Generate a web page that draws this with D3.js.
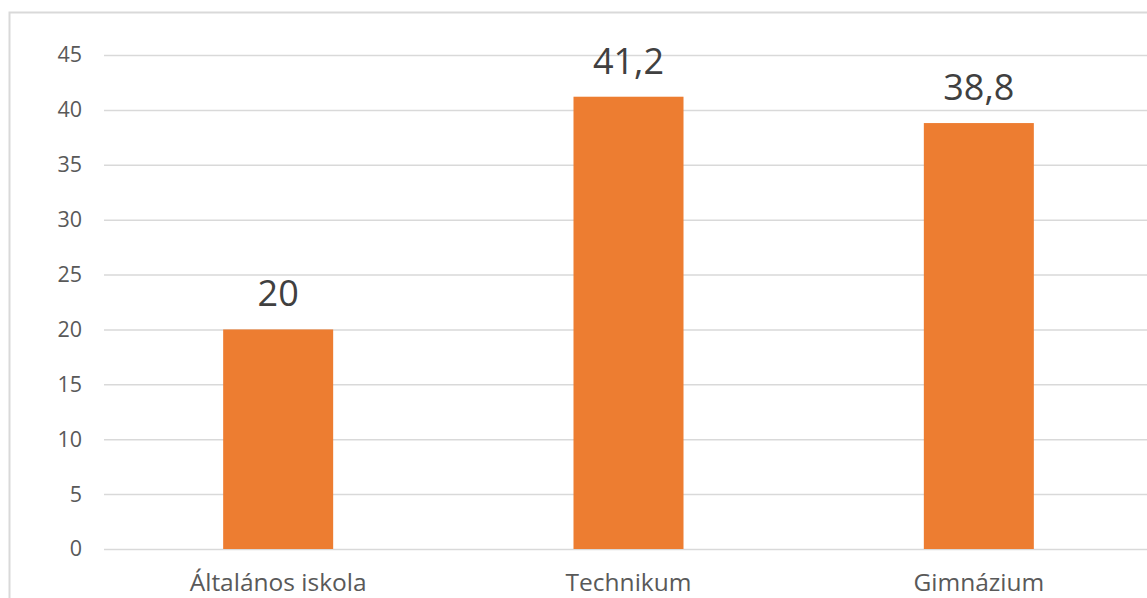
<!DOCTYPE html>
<html>
<head>
<meta charset="utf-8">
<script src="https://cdn.jsdelivr.net/npm/d3@7"></script>
<style>
    body { margin: 0; background: #fff; }
    svg { display: block; }
</style>
</head>
<body>
<svg id="chart" width="1147" height="598"></svg>
<script>
// chart data
const categories = ["Általános iskola", "Technikum", "Gimnázium"];
const values = [20, 41.2, 38.8];
const yTicks = [0, 5, 10, 15, 20, 25, 30, 35, 40, 45];

const font = "\"Segoe UI\", \"Open Sans\", sans-serif";
const svg = d3.select("#chart");

// outer chart frame (right and bottom edges fall outside the picture)
svg.append("rect")
    .attr("x", 9.5).attr("y", 12.5)
    .attr("width", 1160).attr("height", 620)
    .attr("fill", "none")
    .attr("stroke", "#d9d9d9")
    .attr("stroke-width", 2);

const x = d3.scaleBand()
    .domain(categories)
    .range([103, 1154])
    .paddingInner(0.686)
    .paddingOuter(0.343);

const y = d3.scaleLinear()
    .domain([0, 45])
    .range([549, 55]);

// gridlines + tick labels
const yAxis = d3.axisLeft(y)
    .tickValues(yTicks)
    .tickSize(-1060)
    .tickPadding(22)
    .tickFormat(d3.format("d"));

const gy = svg.append("g")
    .attr("transform", "translate(104,0)")
    .call(yAxis)
    .attr("font-family", font)
    .attr("font-size", 21.5);
gy.select(".domain").remove();
gy.selectAll(".tick line")
    .attr("stroke", "#d9d9d9")
    .attr("stroke-width", 1.5);
gy.selectAll(".tick text")
    .attr("fill", "#595959");

// bars
svg.selectAll("rect.bar")
    .data(values)
    .join("rect")
    .attr("class", "bar")
    .attr("x", (d, i) => x(categories[i]))
    .attr("y", d => y(d))
    .attr("width", x.bandwidth())
    .attr("height", d => y(0) - y(d))
    .attr("fill", "#ed7d31");

// value labels
svg.selectAll("text.val")
    .data(values)
    .join("text")
    .attr("class", "val")
    .attr("x", (d, i) => x(categories[i]) + x.bandwidth() / 2)
    .attr("y", d => y(d) - 23)
    .attr("text-anchor", "middle")
    .attr("fill", "#404040")
    .attr("font-family", font)
    .attr("font-size", 36)
    .text(d => String(d).replace(".", ","));

// category axis (kept just inside the bottom edge)
const gx = svg.append("g")
    .attr("transform", "translate(0,549)")
    .call(d3.axisBottom(x).tickSize(0).tickPadding(24.5))
    .attr("font-family", font)
    .attr("font-size", 24.5);
gx.select(".domain").remove();
gx.selectAll(".tick text")
    .attr("fill", "#595959");
</script>
</body>
</html>
